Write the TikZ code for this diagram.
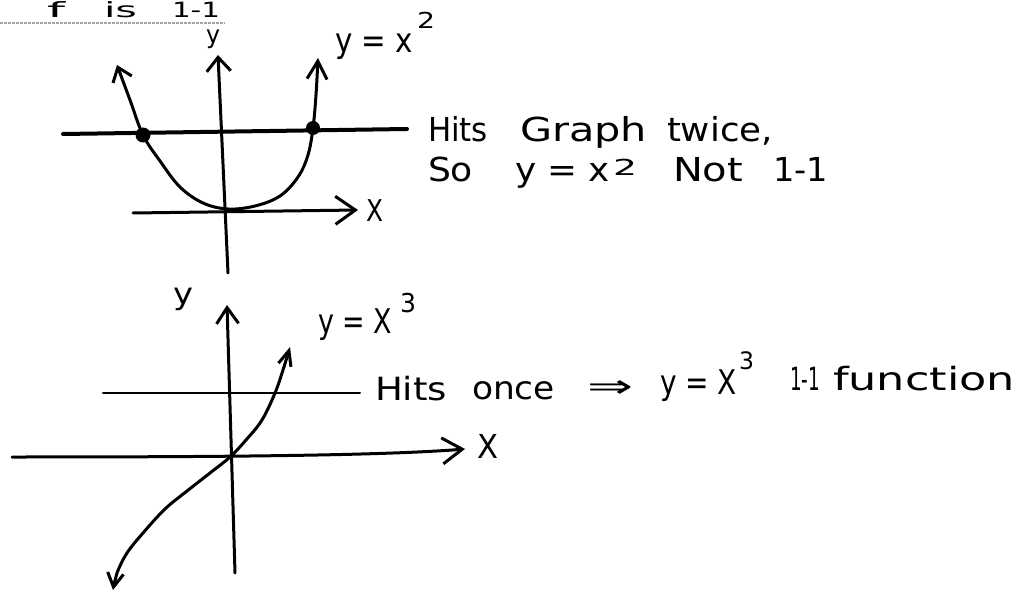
\documentclass[tikz,border=0pt]{standalone}
\usepackage{fontspec}
\setmainfont{DejaVu Sans}
\usepackage{graphicx}
\usetikzlibrary{arrows.meta}
\newcommand{\handw}[2]{\resizebox{#1pt}{\height}{#2}}
\tikzset{
  word/.style={anchor=base west, inner sep=0pt, outer sep=0pt, font=\fontsize{33}{36}\selectfont},
  smallword/.style={word, font=\fontsize{20}{22}\selectfont},
  headword/.style={word, font=\fontsize{21}{22}\selectfont},
  ink/.style={line width=3pt, line cap=round, line join=round, draw=black},
  thickink/.style={ink, line width=4pt},
  thinink/.style={ink, line width=2pt},
  dotmark/.style={fill=black},
}
\begin{document}
\begin{tikzpicture}[x=1pt,y=-1pt]
\useasboundingbox (0,0) rectangle (1023,596);
\fill[white] (0,0) rectangle (1023,596);
\begin{scope}
\clip (0,0) rectangle (1023,596);

% ---- heading ----
\node[headword] (tf) at (47,18) {\handw{18}{f}};
\node[headword] (tis) at (104,18) {\handw{33}{is}};
\node[headword] (t11) at (172,18) {\handw{48}{1-1}};
\coordinate (ul1) at (0,23);
\coordinate (ul2) at (225,23);
\draw[gray!70, line width=1.4pt, dash pattern=on 3pt off 1pt] (ul1) -- (ul2);

% ---- top graph ----
\coordinate (ya1) at (228,273);
\coordinate (ya2) at (218,55);
\draw[ink, -{Straight Barb[length=14pt,width=24pt]}] (ya1) -- (ya2);
\node[smallword, font=\fontsize{25}{27}\selectfont] (ylabT) at (206,44) {\handw{14}{y}};

\coordinate (h1) at (63,134);
\coordinate (h2) at (407,129);
\draw[thickink] (h1) -- (h2);

\coordinate (xa1) at (133,213);
\coordinate (xa2) at (358,210);
\draw[ink, -{Straight Barb[length=20pt,width=28pt]}] (xa1) -- (xa2);
\node[word, font=\fontsize{30}{32}\selectfont] (xlabT) at (366,222) {\handw{17}{X}};

\draw[ink, {Straight Barb[length=13pt,width=20pt]}-{Straight Barb[length=18pt,width=20pt]}]
  plot[smooth, tension=0.6] coordinates {(117,65) (130,100) (143,135) (160,161) (180,187) (203,203) (228,209) (255,206) (280,196) (298,177) (308,155) (313,128) (316,95) (318,58)};

\coordinate (d1) at (143,135);
\coordinate (d2) at (313,128);
\fill[dotmark] (d1) circle[radius=7.5pt];
\fill[dotmark] (d2) circle[radius=7pt];

\node[word, font=\fontsize{34}{36}\selectfont] (eqT) at (335,53) {\handw{78}{y = x}};
\node[smallword, font=\fontsize{22}{24}\selectfont] (eqT2) at (417,29) {\handw{18}{2}};

\node[word] (w1) at (428,142) {\handw{60}{Hits}};
\node[word] (w2) at (520,142) {\handw{127}{Graph}};
\node[word] (w3) at (667,142) {\handw{106}{twice,}};
\node[word] (w4) at (428,182) {\handw{45}{So}};
\node[word] (w5) at (515,182) {\handw{95}{y = x}};
\node[smallword, font=\fontsize{22}{24}\selectfont] (w5s) at (613,176) {\handw{24}{2}};
\node[word] (w6) at (673,182) {\handw{70}{Not}};
\node[word] (w7) at (773,182) {\handw{55}{1-1}};

% ---- bottom graph ----
\coordinate (yb1) at (235,573);
\coordinate (yb2) at (227,305);
\draw[ink, -{Straight Barb[length=16pt,width=22pt]}] (yb1) -- (yb2);
\node[word, font=\fontsize{30}{32}\selectfont] (ylabB) at (173,305) {\handw{20}{y}};

\coordinate (hb1) at (103,393);
\coordinate (hb2) at (360,393);
\draw[thinink] (hb1) -- (hb2);

\coordinate (xb1) at (12,457);
\coordinate (xb2) at (465,449);
\draw[ink, -{Straight Barb[length=20pt,width=26pt]}] (xb1) .. controls (200,457) and (380,456) .. (xb2);
\node[word] (xlabB) at (477,458) {\handw{21}{X}};

\draw[ink, {Straight Barb[length=14pt,width=16pt]}-{Straight Barb[length=15pt,width=13pt]}]
  plot[smooth, tension=0.6] coordinates {(113,590) (117,573) (127,553) (143,533) (165,509) (187,491) (210,473) (230,457) (246,440) (262,420) (275,393) (283,370) (290,347)};

\node[word, font=\fontsize{34}{36}\selectfont] (eqB) at (318,333) {\handw{74}{y = X}};
\node[smallword, font=\fontsize{26}{28}\selectfont] (eqB3) at (400,312) {\handw{16}{3}};

\node[word, font=\fontsize{32}{34}\selectfont] (b1) at (375,400) {\handw{72}{Hits}};
\node[word, font=\fontsize{32}{34}\selectfont] (b2) at (472,399) {\handw{83}{once}};
\node[word, font=\fontsize{32}{34}\selectfont] (b3) at (587,397) {\handw{46}{⇒}};
\node[word, font=\fontsize{34}{36}\selectfont] (b4) at (660,394) {\handw{77}{y = X}};
\node[smallword, font=\fontsize{24}{26}\selectfont] (b4s) at (739,369) {\handw{15}{3}};
\node[word, font=\fontsize{32}{34}\selectfont] (b5) at (790,390) {\handw{30}{1-1}};
\node[word, font=\fontsize{32}{34}\selectfont] (b6) at (833,390) {\handw{182}{function}};
\end{scope}
\end{tikzpicture}
\end{document}
